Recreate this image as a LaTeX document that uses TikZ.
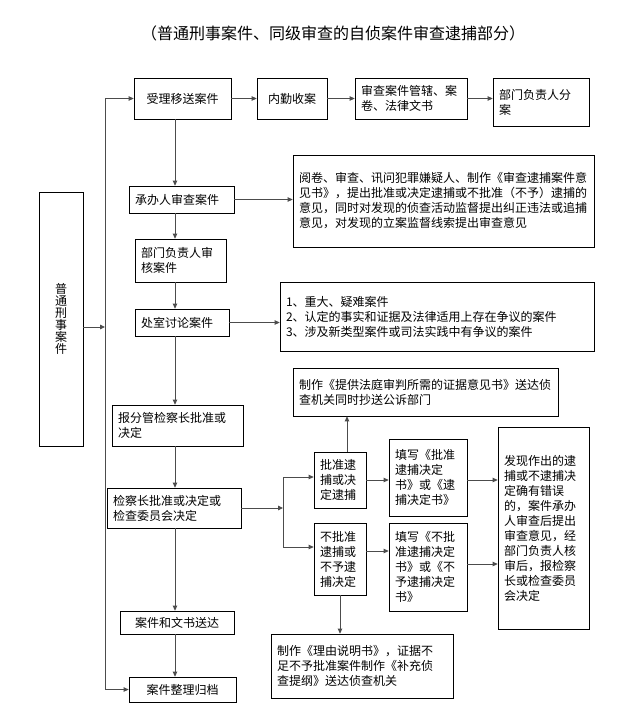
\documentclass[tikz,border=0pt]{standalone}
\usepackage{fontspec}
\setmainfont{Noto Sans CJK SC}
\usetikzlibrary{arrows.meta,calc}
\tikzset{
 box/.style={draw=black, line width=0.7pt, inner xsep=6pt, inner ysep=2pt, align=left, font=\fontsize{12}{15}\selectfont},
 conn/.style={draw=black!70, line width=0.9pt},
 arr/.style={conn, -{Triangle[length=5pt,width=4.5pt]}},
}
\newcommand\mybox[7][]{%
 \pgfmathsetmacro\mybw{#5-#3}\pgfmathsetmacro\mybh{#6-#4}\pgfmathsetmacro\mytw{#5-#3-12}%
 \node[box, minimum width=\mybw pt, minimum height=\mybh pt, text width=\mytw pt, #1] (#2) at ({(#3+#5)/2},{(#4+#6)/2}) {#7};}
\begin{document}
\begin{tikzpicture}[x=1pt,y=-1pt]
\useasboundingbox[fill=white] (0,0) rectangle (633,717);
\node[font=\fontsize{16}{16}\selectfont] (title) at (333,33) {（普通刑事案件、同级审查的自侦案件审查逮捕部分）};
% top row
\mybox[align=center]{b1}{134}{78}{231}{119}{受理移送案件}
\mybox[align=center]{b2}{257}{78}{327}{119}{内勤收案}
\mybox{b3}{355}{78}{467}{119}{审查案件管辖、案\\卷、法律文书}
\mybox{b4}{493}{78}{589}{126}{部门负责人分\\案}
% left box
\node[draw=black, line width=0.7pt, minimum width=44pt, minimum height=254pt, inner sep=0pt, align=center, font=\fontsize{12}{12}\selectfont] (gp) at (61,319) {普\\通\\刑\\事\\案\\件};
% main column
\mybox{c1}{129}{186}{234}{213}{承办人审查案件}
\mybox{t1}{293}{155}{594}{247}{阅卷、审查、讯问犯罪嫌疑人、制作《审查逮捕案件意\\见书》，提出批准或决定逮捕或不批准（不予）逮捕的\\意见，同时对发现的侦查活动监督提出纠正违法或追捕\\意见，对发现的立案监督线索提出审查意见}
\mybox{c2}{135}{239}{226}{282}{部门负责人审\\核案件}
\mybox{c3}{135}{309}{229}{336}{处室讨论案件}
\mybox{t2}{280}{282}{594}{351}{1、重大、疑难案件\\2、认定的事实和证据及法律适用上存在争议的案件\\3、涉及新类型案件或司法实践中有争议的案件}
\mybox{c4}{112}{405}{243}{446}{报分管检察长批准或\\决定}
\mybox{t3}{293}{368}{558}{416}{制作《提供法庭审判所需的证据意见书》送达侦\\查机关同时抄送公诉部门}
\mybox{c5}{107}{488}{241}{528}{检察长批准或决定或\\检查委员会决定}
\mybox{p1}{314}{452}{366}{508}{批准逮\\捕或决\\定逮捕}
\mybox{p2}{314}{523}{366}{595}{不批准\\逮捕或\\不予逮\\捕决定}
\mybox{f1}{389}{439}{467}{516}{填写《批准\\逮捕决定\\书》或《逮\\捕决定书》}
\mybox{f2}{389}{523}{467}{611}{填写《不批\\准逮捕决定\\书》或《不\\予逮捕决定\\书》}
\mybox{r}{498}{427}{589}{629}{发现作出的逮\\捕或不逮捕决\\定确有错误\\的，案件承办\\人审查后提出\\审查意见，经\\部门负责人核\\审后，报检察\\长或检查委员\\会决定}
\mybox{t4}{271}{634}{453}{698}{制作《理由说明书》，证据不\\足不予批准案件制作《补充侦\\查提纲》送达侦查机关}
\mybox[align=center]{c6}{120}{611}{234}{634}{案件和文书送达}
\mybox[align=center]{c7}{129}{677}{236}{702}{案件整理归档}
% coordinates
\coordinate (lt) at (105,98.5);
\coordinate (lb) at (105,689.5);
\coordinate (mx) at (175,0);
\coordinate (bx) at (283,508);
\coordinate (bt) at (283,477);
\coordinate (bb) at (283,547);
\coordinate (ya) at (0,480);
\coordinate (yb) at (0,551);
\coordinate (yc) at (0,564);
\coordinate (px) at (347,0);
\coordinate (qx) at (340,0);
% top row arrows
\draw[arr] (b1) -- (b2);
\draw[arr] (b2) -- (b3);
\draw[arr] (b3.east) -- (b3.east -| b4.west);
% left line
\draw[conn] (lt) -- (lb);
\draw[arr] (lt) -- (lt -| b1.west);
\draw[arr] (lb) -- (lb -| c7.west);
\draw[arr] (gp.east |- 0,327) -- (lt |- 0,327);
% main column
\draw[arr] (b1.south -| mx) -- (c1.north -| mx);
\draw[arr] (c1.south -| mx) -- (c2.north -| mx);
\draw[arr] (c2.south -| mx) -- (c3.north -| mx);
\draw[arr] (c3.south -| mx) -- (c4.north -| mx);
\draw[arr] (c4.south -| mx) -- (c5.north -| mx);
\draw[arr] (c5.south -| mx) -- (c6.north -| mx);
\draw[arr] (c6.south -| mx) -- (c7.north -| mx);
% side arrows
\draw[arr] (c1.east) -- (c1.east -| t1.west);
\draw[arr] (c3.east) -- (c3.east -| t2.west);
% branch
\draw[arr] (c5.east) -- (bx);
\draw[conn] (bt) -- (bb);
\draw[arr] (bt) -- (bt -| p1.west);
\draw[arr] (bb) -- (bb -| p2.west);
\draw[arr] (p1.east |- ya) -- (f1.west |- ya);
\draw[arr] (p2.east |- yb) -- (f2.west |- yb);
\draw[arr] (f1.east |- ya) -- (r.west |- ya);
\draw[arr] (f2.east |- yc) -- (r.west |- yc);
\draw[arr] (p1.north -| px) -- (t3.south -| px);
\draw[arr] (p2.south -| qx) -- (t4.north -| qx);
\end{tikzpicture}
\end{document}
